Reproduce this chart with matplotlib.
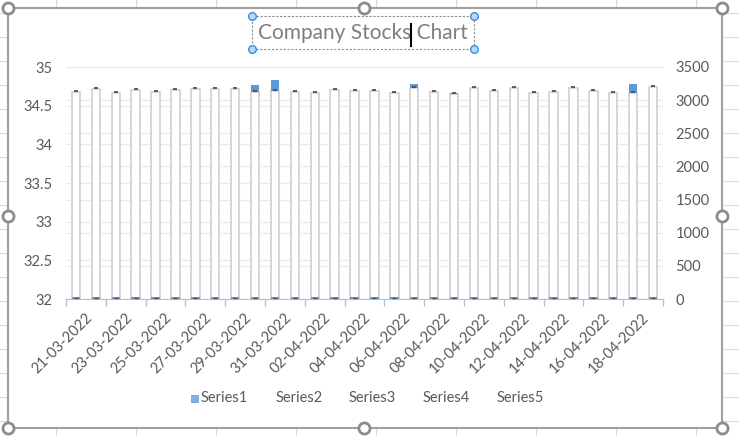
import matplotlib
matplotlib.use("Agg")
import matplotlib.pyplot as plt
import numpy as np
from matplotlib.lines import Line2D
from matplotlib.patches import Rectangle
from matplotlib.ticker import FuncFormatter
from matplotlib.transforms import ScaledTranslation

plt.rcParams['font.family'] = ['Lato', 'DejaVu Sans']

# categories
dates = ['21-03-2022', '22-03-2022', '23-03-2022', '24-03-2022', '25-03-2022',
         '26-03-2022', '27-03-2022', '28-03-2022', '29-03-2022', '30-03-2022',
         '31-03-2022', '01-04-2022', '02-04-2022', '03-04-2022', '04-04-2022',
         '05-04-2022', '06-04-2022', '07-04-2022', '08-04-2022', '09-04-2022',
         '10-04-2022', '11-04-2022', '12-04-2022', '13-04-2022', '14-04-2022',
         '15-04-2022', '16-04-2022', '17-04-2022', '18-04-2022', '19-04-2022']

# secondary axis series (white columns, close marks, blue up/down boxes)
volume = [3118, 3168, 3103, 3148, 3118, 3153, 3168, 3168, 3164, 3123,
          3138, 3118, 3103, 3148, 3133, 3133, 3103, 3179, 3118, 3088,
          3179, 3133, 3179, 3103, 3118, 3179, 3133, 3103, 3103, 3194]
close_mark = [3138, 3188, 3123, 3168, 3138, 3173, 3188, 3188, 3184, 3143,
              3158, 3138, 3123, 3168, 3153, 3153, 3123, 3199, 3138, 3108,
              3199, 3153, 3199, 3123, 3138, 3199, 3153, 3123, 3123, 3214]
box_top = [None, None, None, None, None, None, None, None, None, 3228,
           3304, None, None, None, None, None, None, 3243, None, 3108,
           None, None, None, None, None, None, None, None, 3243, None]

# primary axis series (Series1)
series1 = [32.025, 32.025, 32.025, 32.025, 32.025, 32.025, 32.025, 32.025, 32.025, 32.025,
           32.025, 32.025, 32.025, 32.025, 32.025, 32.025, 32.025, 32.025, 32.025, 32.025,
           32.025, 32.025, 32.025, 32.025, 32.025, 32.025, 32.025, 32.025, 32.025, 32.025]
series1_mark = [32.012] * 30

legend_names = ['Series1', 'Series2', 'Series3', 'Series4', 'Series5']

W, H = 739, 436
fig = plt.figure(figsize=(W / 100, H / 100), dpi=100)

def fx(px):
    return px / W

def fy(py):
    return 1 - py / H

# spreadsheet cells behind the chart
for xv in range(56, W, 80):
    fig.add_artist(Line2D([fx(xv)] * 2, [0, 1], color='#dadada', lw=0.8,
                          transform=fig.transFigure, zorder=-5))
for yv in range(13, H, 24):
    fig.add_artist(Line2D([0, 1], [fy(yv)] * 2, color='#dadada', lw=0.8,
                          transform=fig.transFigure, zorder=-5))

# chart area
fig.add_artist(Rectangle((fx(8), fy(428)), fx(722) - fx(8), fy(8) - fy(428),
                         facecolor='white', edgecolor='#a0a0a0', lw=1.5,
                         transform=fig.transFigure, zorder=-4))

rect = [fx(66), fy(299), fx(663) - fx(66), fy(67) - fy(299)]
ax = fig.add_axes(rect)
ax2 = ax.twinx()
ax3 = fig.add_axes(rect, sharex=ax)
ax.patch.set_visible(False)

x = np.arange(len(dates))
bw = 0.42
grid_c = '#ebebeb'
txt_c = '#595959'

# gridlines
ax.set_ylim(32, 35)
ax.set_yticks(np.arange(32, 35.01, 0.5))
ax.yaxis.set_major_formatter(FuncFormatter(lambda v, p: '%g' % v))
ax.grid(axis='y', color=grid_c, lw=0.9)
ax.set_axisbelow(True)

ax2.set_ylim(0, 3500)
ax2.set_yticks(np.arange(0, 3501, 500))
ax2.grid(axis='y', color=grid_c, lw=0.9)
ax2.set_axisbelow(True)

# columns on secondary axis
ax2.bar(x, volume, width=bw, facecolor='white', edgecolor='#d0d0d0', lw=1.2, zorder=3)
bt = np.array([np.nan if v is None else v for v in box_top], dtype=float)
has_box = ~np.isnan(bt)
vol = np.array(volume, dtype=float)
ax2.bar(x[has_box], bt[has_box] - vol[has_box], bottom=vol[has_box], width=bw,
        facecolor='#5b9bd5', edgecolor='none', zorder=4)
ax2.scatter(x, close_mark, marker='_', s=7, color='#505050', lw=1.3, zorder=5)

# Series1 on primary axis, drawn on top
ax3.set_ylim(32, 35)
ax3.axis('off')
ax3.patch.set_visible(False)
ax3.bar(x, np.array(series1) - 32, bottom=32, width=bw, facecolor='#5b9bd5',
        edgecolor='none', zorder=3)
ax3.scatter(x, series1_mark, marker='_', s=7, color='#505050', lw=1.0, zorder=4)

ax.set_xlim(-0.5, len(dates) - 0.5)
ax.set_xticks(x[::2])
ax.set_xticklabels(dates[::2], rotation=45, ha='right', rotation_mode='anchor',
                   fontsize=10.5, color=txt_c)
ax.set_xticks(np.arange(-0.5, len(dates), 2), minor=True)
ax.tick_params(axis='x', which='major', length=0, pad=7)
ax.tick_params(axis='x', which='minor', length=5, color='#bfbfbf', width=1)
ax.tick_params(axis='y', length=0, pad=10, labelsize=10.5, labelcolor=txt_c)
ax2.tick_params(axis='y', length=0, pad=9, labelsize=10.5, labelcolor=txt_c)

# nudge the rotated date labels like Excel does
shift = ScaledTranslation(9 / 100, -2 / 100, fig.dpi_scale_trans)
for lbl in ax.get_xticklabels():
    lbl.set_transform(lbl.get_transform() + shift)

for s in ['left', 'right', 'top']:
    ax.spines[s].set_visible(False)
    ax2.spines[s].set_visible(False)
ax.spines['bottom'].set_color('#bfbfbf')
ax2.spines['bottom'].set_visible(False)

# title with selection box
fig.text(fx(363), fy(33), 'Company Stocks Chart', ha='center', va='center',
         fontsize=15, color='#7f7f7f')
fig.add_artist(Rectangle((fx(252), fy(49)), fx(474) - fx(252), fy(16) - fy(49),
                         facecolor='none', edgecolor='#8c8c8c', lw=0.8, ls=(0, (2, 1.5)),
                         transform=fig.transFigure, zorder=6))
for px, py in [(252, 16), (474, 16), (252, 49), (474, 49)]:
    fig.add_artist(Line2D([fx(px)], [fy(py)], marker='o', ms=5.5, mfc='#b8d8f5',
                          mec='#3c8ddc', mew=1, transform=fig.transFigure, zorder=7))
fig.add_artist(Line2D([fx(411)] * 2, [fy(24), fy(46)], color='black', lw=1.5,
                      transform=fig.transFigure, zorder=7))

# chart handles
for px, py in [(8, 8), (364, 8), (722, 8), (8, 216), (722, 216),
               (8, 428), (364, 428), (722, 428)]:
    fig.add_artist(Line2D([fx(px)], [fy(py)], marker='o', ms=8, mfc='white',
                          mec='#8c8c8c', mew=2, transform=fig.transFigure, zorder=7))

# legend
fig.add_artist(Rectangle((fx(191), fy(402)), fx(7), 7 / H, facecolor='#7fb2e3',
                         edgecolor='#5b9bd5', lw=0.5, transform=fig.transFigure, zorder=6))
for name, px in zip(legend_names, [201, 276, 349, 423, 497]):
    fig.text(fx(px), fy(398), name, ha='left', va='center', fontsize=10.5, color=txt_c)

fig.savefig('out.png', dpi=100)
